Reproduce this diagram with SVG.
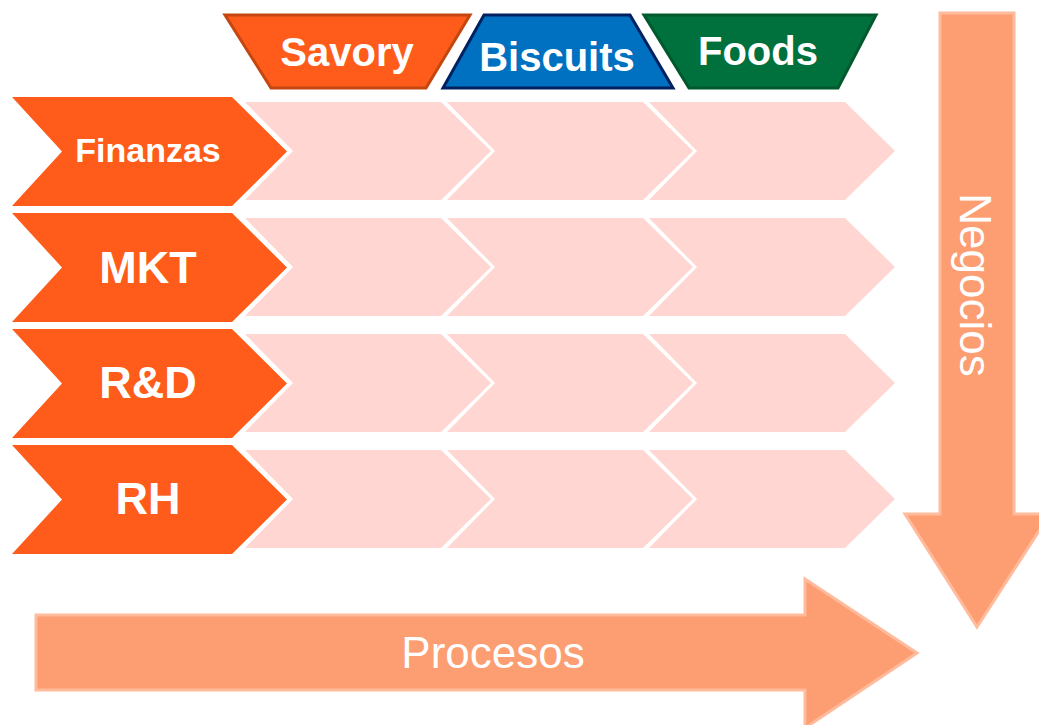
<svg xmlns="http://www.w3.org/2000/svg" width="1039" height="725" viewBox="0 0 1039 725">
  <style>
    .lbl { font-family: "Liberation Sans", Arial, sans-serif; fill: #ffffff; text-anchor: middle; }
    .bold { font-weight: bold; }
    .proc { fill: #ff5b1a; }
    .cell { fill: #ffd6d1; }
    .big-arrow { fill: #fd9d72; stroke: #ffbb9c; stroke-width: 3; stroke-linejoin: miter; }
  </style>
  <defs>
    <!-- function chevron (left tile of each row) -->
    <polygon id="chev-main" points="12,0 232,0 287,54.5 232,109 12,109 62,54.5"/>
    <!-- empty matrix cell chevron -->
    <polygon id="chev-cell" points="0,0 196,0 246,49 196,98 0,98 48,49"/>
  </defs>

  <rect width="1039" height="725" fill="#ffffff"/>

  <!-- business headers -->
  <g id="business-savory">
    <polygon points="225,15 470,15 426,88 271,88" fill="#ff5b1a" stroke="#c4470f" stroke-width="3"/>
    <text class="lbl bold" x="347" y="66" font-size="40">Savory</text>
  </g>
  <g id="business-biscuits">
    <polygon points="484,15 630,15 673,88 443,88" fill="#0070c0" stroke="#002060" stroke-width="3"/>
    <text class="lbl bold" x="557" y="71" font-size="40">Biscuits</text>
  </g>
  <g id="business-foods">
    <polygon points="644,15 876,15 838,88 689,88" fill="#00703c" stroke="#005a2e" stroke-width="3"/>
    <text class="lbl bold" x="758" y="65" font-size="40">Foods</text>
  </g>

  <!-- process rows -->
  <g id="row-finanzas">
    <use href="#chev-main" class="proc" transform="translate(0,97)"/>
    <use href="#chev-cell" class="cell" transform="translate(245,102)"/>
    <use href="#chev-cell" class="cell" transform="translate(447,102)"/>
    <use href="#chev-cell" class="cell" transform="translate(649,102)"/>
    <text class="lbl bold" x="148" y="162" font-size="34">Finanzas</text>
  </g>
  <g id="row-mkt">
    <use href="#chev-main" class="proc" transform="translate(0,213)"/>
    <use href="#chev-cell" class="cell" transform="translate(245,218)"/>
    <use href="#chev-cell" class="cell" transform="translate(447,218)"/>
    <use href="#chev-cell" class="cell" transform="translate(649,218)"/>
    <text class="lbl bold" x="148" y="283" font-size="45">MKT</text>
  </g>
  <g id="row-rd">
    <use href="#chev-main" class="proc" transform="translate(0,329)"/>
    <use href="#chev-cell" class="cell" transform="translate(245,334)"/>
    <use href="#chev-cell" class="cell" transform="translate(447,334)"/>
    <use href="#chev-cell" class="cell" transform="translate(649,334)"/>
    <text class="lbl bold" x="148" y="398" font-size="45">R&amp;D</text>
  </g>
  <g id="row-rh">
    <use href="#chev-main" class="proc" transform="translate(0,445)"/>
    <use href="#chev-cell" class="cell" transform="translate(245,450)"/>
    <use href="#chev-cell" class="cell" transform="translate(447,450)"/>
    <use href="#chev-cell" class="cell" transform="translate(649,450)"/>
    <text class="lbl bold" x="148" y="514" font-size="45">RH</text>
  </g>

  <!-- axis arrows -->
  <g id="connectors">
    <g id="axis-negocios">
      <polygon class="big-arrow" points="940,13 1014,13 1014,514 1050,514 977,627 905,514 940,514"/>
      <text class="lbl" x="0" y="0" font-size="44" transform="translate(960,285) rotate(90)">Negocios</text>
    </g>
    <g id="axis-procesos">
      <polygon class="big-arrow" points="36,615 805,615 805,579 917,653 805,728 805,690 36,690"/>
      <text class="lbl" x="493" y="668" font-size="44">Procesos</text>
    </g>
  </g>
</svg>
